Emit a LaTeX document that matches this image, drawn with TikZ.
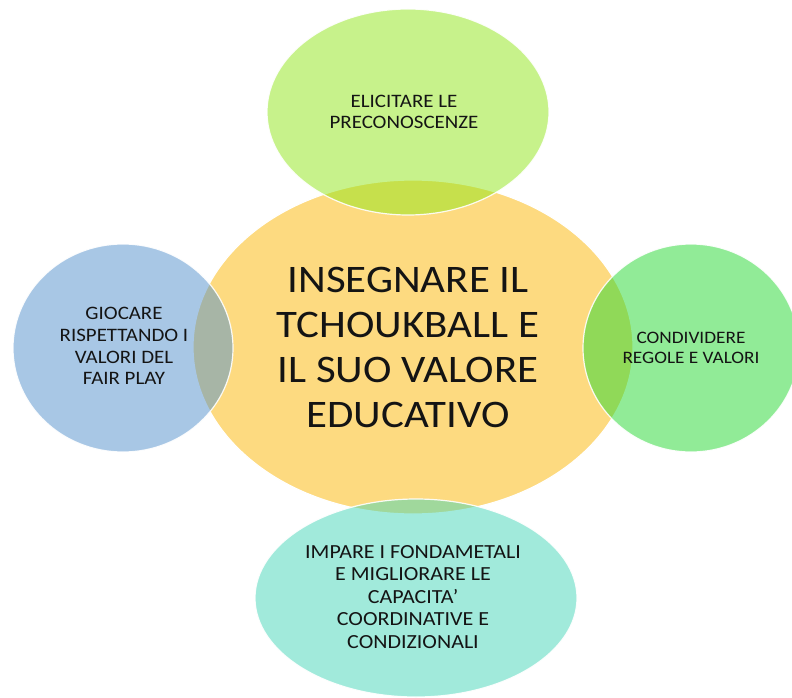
\documentclass[tikz,border=0pt]{standalone}
\usepackage{fontspec}
\setmainfont{Carlito}[FakeStretch=1.1]
\usetikzlibrary{shapes.geometric}
\definecolor{cyellow}{RGB}{253,218,128}
\definecolor{cgreenA}{RGB}{145,231,25}
\definecolor{cblue}{RGB}{83,145,205}
\definecolor{cgreenB}{RGB}{37,217,49}
\definecolor{cteal}{RGB}{69,215,185}
\definecolor{ctext}{RGB}{20,20,20}
\tikzset{
  bubble/.style={ellipse, draw=white, line width=1.2pt, inner sep=0pt, text=ctext, align=center, text opacity=1},
  satellite/.style={bubble, fill opacity=0.5, draw opacity=0.9},
  label/.style={text=ctext, align=center},
}
\begin{document}
\begin{tikzpicture}[x=1pt,y=-1pt]
\useasboundingbox (0,0) rectangle (792,698);
\fill[white] (0,0) rectangle (792,698);
% central
\node[bubble, fill=cyellow, minimum width=440pt, minimum height=334pt] (c) at (413,347) {};
\node[label, font=\fontsize{39pt}{45pt}\selectfont] (ct) at (408,347) {INSEGNARE IL\\TCHOUKBALL E\\IL SUO VALORE\\EDUCATIVO};
% satellites
\node[satellite, fill=cgreenA, minimum width=282pt, minimum height=206pt] (t) at (408,112) {};
\node[satellite, fill=cblue, minimum width=220pt, minimum height=208pt] (l) at (123,348) {};
\node[satellite, fill=cgreenB, minimum width=216pt, minimum height=208pt] (r) at (691,348) {};
\node[satellite, fill=cteal, minimum width=322pt, minimum height=198pt] (b) at (416,598) {};
% labels
\node[label, font=\fontsize{19pt}{21.7pt}\selectfont] (tt) at (404,112) {ELICITARE LE\\PRECONOSCENZE};
\node[label, font=\fontsize{19pt}{21.7pt}\selectfont] (lt) at (124,346) {GIOCARE\\RISPETTANDO I\\VALORI DEL\\FAIR PLAY};
\node[label, font=\fontsize{17.5pt}{20pt}\selectfont] (rt) at (691,348) {CONDIVIDERE\\REGOLE E VALORI};
\node[label, font=\fontsize{20pt}{22.5pt}\selectfont] (bt) at (413,597) {IMPARE I FONDAMETALI\\E MIGLIORARE LE\\CAPACITA’\\COORDINATIVE E\\CONDIZIONALI};
\end{tikzpicture}
\end{document}
